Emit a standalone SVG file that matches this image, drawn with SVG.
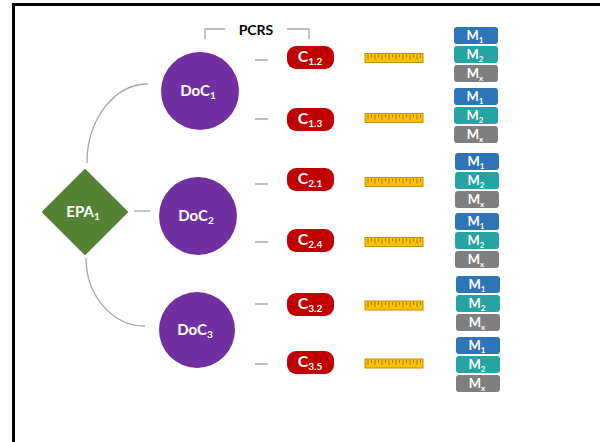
<svg xmlns="http://www.w3.org/2000/svg" xmlns:xlink="http://www.w3.org/1999/xlink" width="600" height="442" viewBox="0 0 600 442">
<style>
text{font-family:Lato,"Liberation Sans",sans-serif;font-weight:bold;fill:#fff;text-anchor:middle}
.doc{fill:#7030a0}
.c{fill:#c00000}
.m1{fill:#2e75b6}
.m2{fill:#26a3a3}
.mx{fill:#7f7f7f}
.ln{fill:none;stroke:#a6a6a6;stroke-width:1.3}
.lbl{font-size:15px}
.cl{font-size:16px}
.ml{font-size:13px}
.sub{font-size:10px}
.msub{font-size:8px}
</style>
<defs>
<g id="ruler">
<rect x="0" y="0" width="58" height="9" fill="#ffc000" stroke="#bf9000" stroke-width="1"/>
<path d="M3,1V6M6.5,1V4M10,1V6M13.5,1V4M17,1V6M20.5,1V4M24,1V6M27.5,1V4M31,1V6M34.5,1V4M38,1V6M41.5,1V4M45,1V6M48.5,1V4M52,1V6M55.5,1V4" stroke="#8a6a00" stroke-width="0.8"/>
</g>
<g id="mstack">
<rect class="m1" x="0" y="0" width="44" height="17" rx="3"/>
<rect class="m2" x="0" y="19" width="44" height="17" rx="3"/>
<rect class="mx" x="0" y="38" width="44" height="17" rx="3"/>
<text x="21" y="13" class="ml">M<tspan class="msub" dy="3">1</tspan></text>
<text x="21" y="32" class="ml">M<tspan class="msub" dy="3">2</tspan></text>
<text x="21" y="51" class="ml">M<tspan class="msub" dy="3">x</tspan></text>
</g>
</defs>
<rect width="600" height="442" fill="#fff"/>
<path d="M13.5,442V4.5H600" fill="none" stroke="#000" stroke-width="3"/>

<g id="connectors">
<path class="ln" d="M87,163A61,79 0 0 1 148,84"/>
<path class="ln" d="M86,258A59,68 0 0 0 145,326"/>
<path class="ln" d="M134,211H150"/>
<path class="ln" d="M255,60H268M255,119H268M255,184H268M255,242H268M255,304H268M255,364H268"/>
<path class="ln" d="M205,39V29H225M287,29H309V39"/>
</g>

<g id="pcrs"><text x="256" y="35" style="fill:#000;font-size:14px">PCRS</text></g>

<g id="epa1">
<polygon points="85,170 127,212 85,254 43,212" fill="#548235" stroke="#548235" stroke-width="2" stroke-linejoin="round"/>
<text x="83" y="217" class="lbl">EPA<tspan class="sub" dy="3">1</tspan></text>
</g>

<g id="doc1"><circle class="doc" cx="200" cy="91" r="39"/><text x="198" y="96" class="lbl">DoC<tspan class="sub" dy="3">1</tspan></text></g>
<g id="doc2"><circle class="doc" cx="198" cy="216" r="39"/><text x="196" y="221" class="lbl">DoC<tspan class="sub" dy="3">2</tspan></text></g>
<g id="doc3"><circle class="doc" cx="197" cy="330" r="38"/><text x="195" y="335" class="lbl">DoC<tspan class="sub" dy="3">3</tspan></text></g>

<g id="c12"><rect class="c" x="287" y="46" width="47" height="23" rx="9"/><text x="310" y="62" class="cl">C<tspan class="sub" dy="3">1.2</tspan></text></g>
<g id="c13"><rect class="c" x="287" y="108" width="47" height="23" rx="9"/><text x="310" y="124" class="cl">C<tspan class="sub" dy="3">1.3</tspan></text></g>
<g id="c21"><rect class="c" x="287" y="168" width="47" height="23" rx="9"/><text x="310" y="184" class="cl">C<tspan class="sub" dy="3">2.1</tspan></text></g>
<g id="c24"><rect class="c" x="287" y="229" width="47" height="23" rx="9"/><text x="310" y="245" class="cl">C<tspan class="sub" dy="3">2.4</tspan></text></g>
<g id="c32"><rect class="c" x="287" y="293" width="47" height="23" rx="9"/><text x="310" y="309" class="cl">C<tspan class="sub" dy="3">3.2</tspan></text></g>
<g id="c35"><rect class="c" x="287" y="351" width="47" height="23" rx="9"/><text x="310" y="367" class="cl">C<tspan class="sub" dy="3">3.5</tspan></text></g>

<g id="ruler12"><use xlink:href="#ruler" x="365" y="53.5"/></g>
<g id="ruler13"><use xlink:href="#ruler" x="365" y="113.5"/></g>
<g id="ruler21"><use xlink:href="#ruler" x="365" y="177.5"/></g>
<g id="ruler24"><use xlink:href="#ruler" x="365" y="237.5"/></g>
<g id="ruler32"><use xlink:href="#ruler" x="365" y="301"/></g>
<g id="ruler35"><use xlink:href="#ruler" x="365" y="359"/></g>

<g id="m12"><use xlink:href="#mstack" x="454" y="27"/></g>
<g id="m13"><use xlink:href="#mstack" x="454" y="88"/></g>
<g id="m21"><use xlink:href="#mstack" x="455" y="153"/></g>
<g id="m24"><use xlink:href="#mstack" x="455" y="213"/></g>
<g id="m32"><use xlink:href="#mstack" x="456" y="276"/></g>
<g id="m35"><use xlink:href="#mstack" x="456" y="337"/></g>
</svg>
